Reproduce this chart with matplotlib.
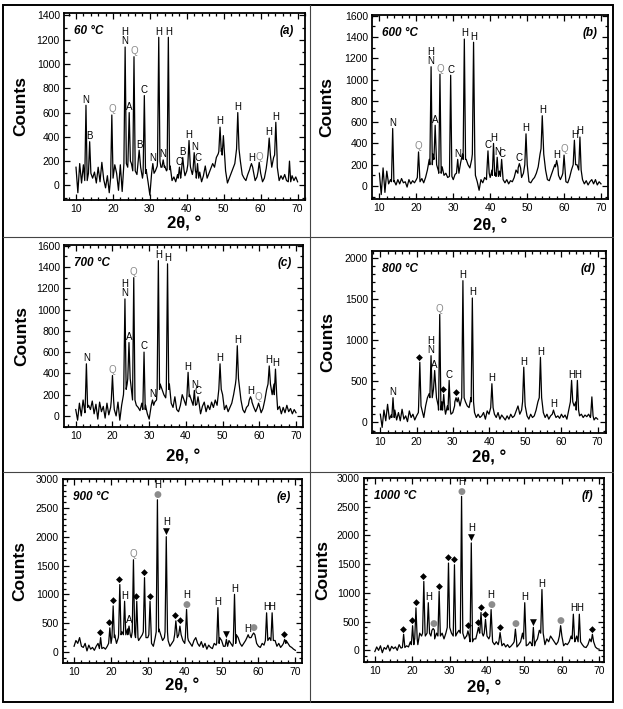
import numpy as np
import matplotlib
matplotlib.use("Agg")
import matplotlib.pyplot as plt
from matplotlib.ticker import MultipleLocator
from matplotlib.patches import Rectangle
from matplotlib.lines import Line2D

plt.rcParams['font.family'] = ['Liberation Sans', 'DejaVu Sans']

# background counts read every 0.5 deg, from 10 to 70 deg
a_bg = [150, -60, 180, 20, 170, 40, 90, 100, 120, 60,
        110, 20, 150, 30, 190, 50, -20, 80, -60, 60,
        30, 170, 100, -40, 170, -50, 40, 180, 150, 200,
        180, 120, 60, 90, 180, 150, 60, 100, 130, 30,
        -80, 60, 100, 120, 160, 200, 150, 150, 160, 120,
        130, 160, 40, 70, 30, 90, 60, 100, 130, 80,
        120, 170, 150, 90, 120, 100, 60, 110, 30, 80,
        160, 60, 100, 140, 180, 150, 230, 260, 280, 300,
        250, 120, 20, 60, 100, 140, 180, 250, 300, 200,
        90, 60, 40, 90, 130, 150, 120, 40, 70, 110,
        100, 30, 60, 140, 220, 250, 150, 230, 250, 150,
        40, 80, 50, 90, 40, 80, 30, 80, 40, 70,
        30]
b_bg = [120, -80, 170, -60, 140, 20, 60, 40, 50, 10,
        60, 20, 70, 30, 40, -10, 60, 20, 50, 30,
        60, 80, 40, 70, 30, 80, 150, 250, 200, 300,
        250, 200, 140, 120, 180, 100, 120, 80, 130, 90,
        60, 110, 120, 140, 220, 300, 250, 250, 200, 170,
        250, 300, 100, 40, -40, 60, 30, 80, 60, 120,
        80, 150, 100, 120, 90, 140, 90, 60, 30, 60,
        20, 50, 40, 80, 150, 120, 170, 80, 120, 200,
        150, 40, 30, 60, 80, 120, 180, 300, 350, 300,
        150, 60, 50, 100, 150, 200, 180, 100, 60, 100,
        120, 40, 30, 80, 150, 250, 200, 200, 250, 150,
        60, 20, 50, 10, 40, 60, 20, 60, 10, 40,
        20]
c_bg = [60, -40, 120, 0, 150, 30, 80, 100, 60, 140,
        20, 110, -30, 130, 40, 90, -20, 120, 10, 80,
        140, 60, 0, 130, -40, 100, 200, 250, 300, 350,
        300, 200, 150, 100, 80, 50, 120, 60, 100, 20,
        -30, 80, 100, 130, 150, 250, 300, 250, 200, 170,
        250, 300, 120, 80, 180, 60, 40, 100, 200, 150,
        100, 180, 200, 150, 120, 100, 60, 110, 20, 90,
        130, 40, 100, 60, 130, 80, 150, 100, 200, 250,
        200, 60, 100, 40, 80, 120, 200, 300, 350, 300,
        150, 60, 30, 80, 100, 150, 130, 80, 40, 60,
        80, 30, 70, 150, 250, 300, 200, 200, 300, 200,
        60, 90, 20, 80, 30, 100, 40, 70, 20, 60,
        30]
d_bg = [100, -60, 150, 20, 220, 40, 90, 60, 150, 30,
        120, 20, 160, 40, 80, 10, 140, 60, 100, 30,
        80, 120, 200, 150, 60, 200, 300, 350, 300, 350,
        400, 300, 200, 150, 250, 150, 100, 200, 150, 100,
        120, 200, 250, 300, 200, 250, 300, 250, 200, 180,
        300, 250, 120, 60, 100, 60, 80, 120, 40, 140,
        100, 200, 180, 100, 60, 120, 40, 90, 60, 30,
        80, 40, 100, 60, 80, 140, 200, 100, 150, 250,
        200, 80, 40, 100, 60, 80, 150, 250, 300, 250,
        120, 60, 100, 40, 80, 120, 100, 60, 80, 50,
        100, 60, 90, 40, 150, 250, 250, 200, 250, 150,
        80, 100, 60, 90, 70, 100, 60, 80, 30, 60,
        40]
e_bg = [100, 200, 150, 250, 100, 80, 150, 20, 120, 50,
        80, 30, 100, 150, 60, 20, 80, 50, 100, 150,
        200, 250, 300, 150, 250, 300, 350, 300, 250, 400,
        300, 250, 350, 300, 250, 200, 250, 300, 350, 250,
        250, 300, 150, 100, 250, 350, 400, 300, 200, 250,
        350, 200, 100, 150, 200, 300, 250, 300, 250, 200,
        150, 250, 200, 150, 100, 200, 250, 150, 100, 180,
        80, 150, 50, 120, 80, 60, 150, 120, 150, 250,
        200, 100, 150, 100, 200, 150, 100, 150, 300, 250,
        150, 100, 150, 200, 250, 200, 250, 300, 250, 150,
        100, 80, 150, 120, 200, 250, 250, 200, 250, 200,
        100, 150, 80, 120, 150, 200, 150, 100, 80, 50,
        30]
f_bg = [-20, 60, 0, 80, -40, 50, 20, 90, -10, 70,
        30, 60, 0, 100, 40, 50, 120, 80, 60, 150,
        100, 150, 200, 100, 300, 250, 300, 250, 350, 300,
        250, 350, 200, 300, 250, 400, 300, 200, 300, 400,
        350, 300, 400, 250, 300, 350, 300, 250, 200, 250,
        250, 300, 150, 200, 200, 300, 250, 300, 250, 300,
        250, 200, 250, 150, 100, 150, 100, 150, 80, 120,
        60, 100, 50, 80, 120, 150, 60, 100, 150, 300,
        200, 80, 100, 150, 100, 80, 150, 200, 350, 300,
        150, 100, 200, 150, 250, 200, 150, 100, 150, 250,
        150, 80, 120, 100, 150, 250, 200, 150, 250, 150,
        80, 100, 60, 50, 100, 200, 150, 80, 60, 30,
        20]

# peaks: 2theta, counts, phase label (top/bottom when stacked)
a_pos = [12.7, 13.7, 19.7, 23.3, 24.4, 25.7, 27.1, 28.5, 30.8, 32.4, 33.6, 35.0, 38.0,
         38.9, 40.6, 42.0, 42.9, 49.0, 49.9, 53.8, 57.5, 59.6, 62.3, 64.1, 67.8]
a_cts = [660, 360, 580, 1140, 600, 1060, 290, 740, 180, 1220, 210, 1220, 150,
         230, 370, 270, 180, 480, 410, 600, 180, 190, 390, 520, 200]
a_lab = ['N', 'B', 'Q', 'H/N', 'A', 'Q', 'B', 'C', 'N', 'H', 'N', 'H', 'C',
         'B', 'H', 'N', 'C', 'H', '', 'H', 'H', 'Q', 'H', 'H', '']

b_pos = [13.6, 20.6, 24.0, 25.1, 26.4, 29.3, 31.2, 33.0, 35.5, 39.4, 40.9, 41.9, 43.1,
         47.9, 49.7, 54.1, 58.0, 60.0, 62.8, 64.3]
b_cts = [540, 320, 1120, 570, 1050, 1040, 250, 1380, 1350, 330, 400, 270, 250,
         210, 490, 660, 240, 290, 430, 460]
b_lab = ['N', 'Q', 'H/N', 'A', 'Q', 'C', 'N', 'H', 'H', 'C', 'H', 'N', 'C',
         'C', 'H', 'H', 'H', 'Q', 'H', 'H']

c_pos = [12.9, 20.0, 23.4, 24.5, 25.8, 28.6, 30.9, 32.5, 35.0, 40.6, 42.3, 43.3,
         49.3, 54.0, 57.6, 59.8, 62.7, 64.4]
c_cts = [490, 380, 1100, 690, 1300, 600, 150, 1460, 1430, 410, 240, 180,
         490, 660, 180, 120, 470, 440]
c_lab = ['N', 'Q', 'H/N', 'A', 'Q', 'C', 'N', 'H', 'H', 'H', 'N', 'C',
         'H', 'H', 'H', 'Q', 'H', 'H']

d_pos = [13.5, 20.9, 24.0, 25.0, 26.4, 27.5, 29.0, 30.9, 32.8, 35.4, 40.8, 49.6,
         54.2, 57.8, 62.8, 64.4, 68.4]
d_cts = [300, 730, 810, 630, 1310, 340, 510, 300, 1720, 1510, 470, 670,
         790, 150, 510, 510, 310]
d_lab = ['N', '◆', 'H/N', 'A', 'Q', '◆', 'C', '◆', 'H', 'H', 'H', 'H',
         'H', 'H', 'H', 'H', '']

e_pos = [17.2, 19.7, 20.6, 22.4, 23.7, 24.9, 26.1, 27.0, 29.1, 30.6, 32.6, 35.0,
         37.6, 38.7, 40.5, 49.0, 51.3, 53.5, 57.2, 58.7, 62.2, 63.7, 67.1]
e_cts = [250, 420, 800, 1170, 880, 450, 1600, 880, 1290, 880, 2640, 2000,
         540, 450, 740, 770, 220, 1000, 300, 330, 680, 680, 220]
e_lab = ['◆', '◆', '◆', '◆', 'H', 'A', 'Q', '◆', '◆', '◆', 'H/●', 'H/▼',
         '◆', '◆', 'H/●', 'H', '▼', 'H', 'H', '●', 'H', 'H', '◆']

f_pos = [17.7, 20.1, 21.0, 23.1, 24.3, 25.6, 27.2, 29.7, 31.3, 33.2, 34.9, 35.8,
         37.7, 38.4, 39.6, 41.1, 43.5, 47.6, 50.1, 52.4, 54.7, 59.7, 63.1, 64.7, 68.2]
f_cts = [280, 430, 740, 1200, 830, 380, 1030, 1520, 1490, 2680, 340, 1870,
         400, 660, 540, 710, 310, 370, 830, 400, 1060, 430, 630, 630, 280]
f_lab = ['◆', '◆', '◆', '◆', 'H', '●', '◆', '◆', '◆', 'H/●', '◆', 'H/▼',
         '◆', '◆', '◆', 'H/●', '◆', '●', 'H', '▼', 'H', '●', 'H', 'H', '◆']

temps = ['60 °C', '600 °C', '700 °C', '800 °C', '900 °C', '1000 °C']
letters = ['(a)', '(b)', '(c)', '(d)', '(e)', '(f)']

GRAY = '#8c8c8c'
SYMBOLS = ('◆', '●', '▼')
W, H = 623, 709


def trace(bg, pos, cts, hw=0.33):
    grid = 10 + 0.5 * np.arange(len(bg))
    bg = np.asarray(bg, float)
    keep = np.ones(len(grid), bool)
    xs, ys = [], []
    for p, c in zip(pos, cts):
        keep &= np.abs(grid - p) > hw + 1e-6
        j = np.argmin(np.abs(grid - p))
        xs += [p - hw, p, p + hw]
        ys += [bg[j], c, bg[j]]
    xs += list(grid[keep])
    ys += list(bg[keep])
    order = np.argsort(xs, kind='stable')
    return np.array(xs)[order], np.array(ys)[order]


def label_peaks(ax, pos, cts, labs):
    for p, c, s in zip(pos, cts, labs):
        if not s:
            continue
        parts = s.split('/')[::-1]
        for i, part in enumerate(parts):
            col = GRAY if part in ('Q', '●') else 'black'
            if part in SYMBOLS:
                ax.annotate(part, (p, c), xytext=(0, 0.5 + i * 6.5), textcoords='offset points',
                            ha='center', va='bottom', fontsize=6.5, color=col,
                            family='DejaVu Sans')
            else:
                ax.annotate(part, (p, c), xytext=(0, 0.5 + i * 6.5), textcoords='offset points',
                            ha='center', va='bottom', fontsize=7, color=col)


fig = plt.figure(figsize=(W / 100, H / 100), dpi=100)

# left, top, right, bottom in pixels
boxes = [(64, 13, 305, 200), (372, 15, 608, 199),
         (64, 245, 303, 427), (372, 251, 606, 433),
         (63, 479, 302, 663), (364, 478, 604, 662)]
xlims = [(6.75, 72.0), (8.0, 71.9), (6.8, 71.9), (7.7, 72.3), (7.0, 71.8), (7.1, 71.3)]
ylims = [(-120, 1420), (-122, 1606), (-104, 1607), (-128, 2080), (-190, 2970), (-202, 2972)]
ymax = [1400, 1600, 1600, 2000, 3000, 3000]
ystep = [200, 200, 200, 500, 500, 500]
ylab_x = [21, 327, 22, 328, 20, 323]
xlab_y = [224, 226, 457, 458, 686, 688]

panels = [(a_bg, a_pos, a_cts, a_lab), (b_bg, b_pos, b_cts, b_lab),
          (c_bg, c_pos, c_cts, c_lab), (d_bg, d_pos, d_cts, d_lab),
          (e_bg, e_pos, e_cts, e_lab), (f_bg, f_pos, f_cts, f_lab)]

for k, (bg, pos, cts, labs) in enumerate(panels):
    l, t, r, b = boxes[k]
    ax = fig.add_axes([l / W, 1 - b / H, (r - l) / W, (b - t) / H])
    x, y = trace(bg, pos, cts)
    ax.plot(x, y, color='black', lw=0.9)
    label_peaks(ax, pos, cts, labs)
    ax.set_xlim(*xlims[k])
    ax.set_ylim(*ylims[k])
    ax.set_xticks(np.arange(10, 71, 10))
    ax.set_yticks(np.arange(0, ymax[k] + 1, ystep[k]))
    ax.xaxis.set_minor_locator(MultipleLocator(2))
    ax.yaxis.set_minor_locator(MultipleLocator(100))
    ax.tick_params(which='both', direction='in', top=True, right=True, labelsize=7.5, width=0.9)
    ax.tick_params(which='major', length=4, pad=3)
    ax.tick_params(which='minor', length=2.2)
    for sp in ax.spines.values():
        sp.set_linewidth(1.3)
    wpx, hpx = r - l, b - t
    ax.text(10 / wpx, 1 - 18 / hpx, temps[k], transform=ax.transAxes, ha='left', va='center',
            fontsize=8.5, fontweight='bold', fontstyle='italic')
    ax.text(1 - 11 / wpx, 1 - 18 / hpx, letters[k], transform=ax.transAxes, ha='right',
            va='center', fontsize=8.5, fontweight='bold', fontstyle='italic')
    fig.text(ylab_x[k] / W, 1 - (t + b) / 2 / H, 'Counts', rotation=90, ha='center',
             va='center', fontsize=12.5, fontweight='bold')
    fig.text((l + r) / 2 / W, 1 - xlab_y[k] / H, '2θ, °', ha='center', va='center',
             fontsize=12, fontweight='bold')

# panel frame of the composite figure
fig.add_artist(Rectangle((3 / W, 1 - 701.5 / H), 609.5 / W, 697 / H, transform=fig.transFigure,
                         fill=False, edgecolor='black', lw=1.4))
fig.add_artist(Line2D([309.5 / W] * 2, [1 - 4.5 / H, 1 - 701.5 / H], transform=fig.transFigure,
                      color='#444444', lw=0.8))
for yy in (237, 472):
    fig.add_artist(Line2D([3 / W, 612.5 / W], [1 - yy / H] * 2, transform=fig.transFigure,
                          color='#444444', lw=0.8))

fig.savefig('out.png', dpi=100)
